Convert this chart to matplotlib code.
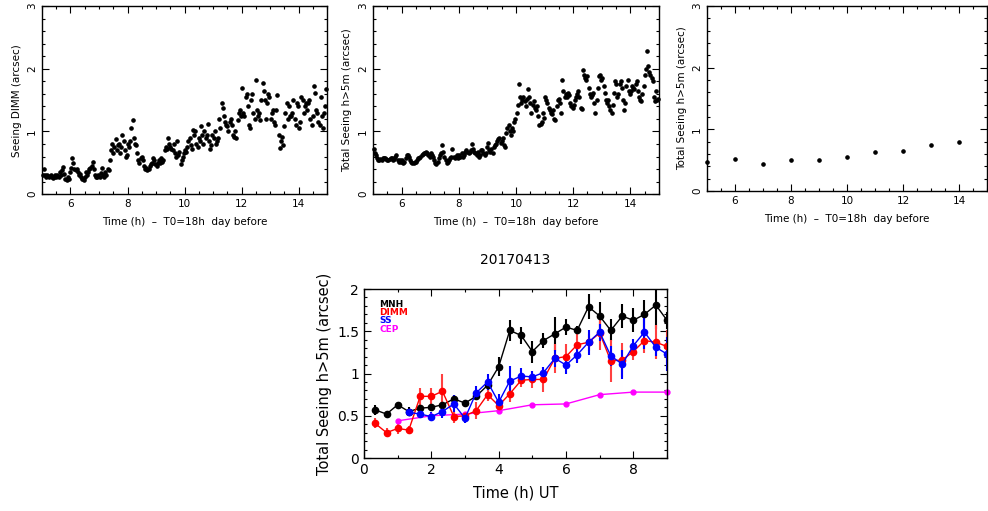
import numpy as np
import matplotlib.pyplot as plt
from matplotlib.ticker import MultipleLocator

# ---- top panels: time since T0 (h) ----
t_obs = [
    5.02, 5.06, 5.10, 5.14, 5.18, 5.22, 5.26, 5.30, 5.34, 5.38, 5.42, 5.46, 5.50, 5.54, 5.58, 5.62, 5.66, 5.70, 5.74, 5.78, 5.82, 5.86, 5.90, 5.94, 5.98,
    6.02, 6.06, 6.10, 6.14, 6.18, 6.22, 6.26, 6.30, 6.34, 6.38, 6.42, 6.46, 6.50, 6.54, 6.58, 6.62, 6.66, 6.70, 6.74, 6.78, 6.82, 6.86, 6.90, 6.94, 6.98,
    7.02, 7.06, 7.10, 7.14, 7.18, 7.22, 7.26, 7.30, 7.34, 7.38, 7.42, 7.46, 7.50, 7.54, 7.58, 7.62, 7.66, 7.70, 7.74, 7.78, 7.82, 7.86, 7.90, 7.94, 7.98,
    8.02, 8.06, 8.10, 8.14, 8.18, 8.22, 8.26, 8.30, 8.34, 8.38, 8.42, 8.46, 8.50, 8.54, 8.58, 8.62, 8.66, 8.70, 8.74, 8.78, 8.82, 8.86, 8.90, 8.94, 8.98,
    9.02, 9.06, 9.10, 9.14, 9.18, 9.22, 9.26, 9.30, 9.34, 9.38, 9.42, 9.46, 9.50, 9.54, 9.58, 9.62, 9.66, 9.70, 9.74, 9.78, 9.82, 9.86, 9.90, 9.94, 9.98,
    10.02, 10.06, 10.10, 10.14, 10.18, 10.22, 10.26, 10.30, 10.34, 10.38, 10.42, 10.46, 10.50, 10.54, 10.58, 10.62, 10.66, 10.70, 10.74, 10.78, 10.82, 10.86, 10.90, 10.94, 10.98,
    11.02, 11.06, 11.10, 11.14, 11.18, 11.22, 11.26, 11.30, 11.34, 11.38, 11.42, 11.46, 11.50, 11.54, 11.58, 11.62, 11.66, 11.70, 11.74, 11.78, 11.82, 11.86, 11.90, 11.94, 11.98,
    12.02, 12.06, 12.10, 12.14, 12.18, 12.22, 12.26, 12.30, 12.34, 12.38, 12.42, 12.46, 12.50, 12.54, 12.58, 12.62, 12.66, 12.70, 12.74, 12.78, 12.82, 12.86, 12.90, 12.94, 12.98,
    13.02, 13.06, 13.10, 13.14, 13.18, 13.22, 13.26, 13.30, 13.34, 13.38, 13.42, 13.46, 13.50, 13.54, 13.58, 13.62, 13.66, 13.70, 13.74, 13.78, 13.82, 13.86, 13.90, 13.94, 13.98,
    14.02, 14.06, 14.10, 14.14, 14.18, 14.22, 14.26, 14.30, 14.34, 14.38, 14.42, 14.46, 14.50, 14.54, 14.58, 14.62, 14.66, 14.70, 14.74, 14.78, 14.82, 14.86, 14.90, 14.94, 14.98,
]

seeing_dimm = [
    0.31, 0.40, 0.30, 0.28, 0.31, 0.29, 0.27, 0.30, 0.28, 0.26, 0.28, 0.30, 0.27, 0.31, 0.28, 0.35, 0.30, 0.38, 0.43, 0.32, 0.25, 0.22, 0.28, 0.24, 0.35,
    0.42, 0.57, 0.50, 0.40, 0.38, 0.40, 0.36, 0.30, 0.32, 0.27, 0.25, 0.22, 0.27, 0.35, 0.30, 0.36, 0.40, 0.42, 0.45, 0.52, 0.40, 0.30, 0.27, 0.28, 0.30,
    0.27, 0.33, 0.42, 0.30, 0.28, 0.35, 0.30, 0.40, 0.38, 0.55, 0.70, 0.80, 0.65, 0.75, 0.88, 0.70, 0.78, 0.80, 0.65, 0.75, 0.95, 0.85, 0.70, 0.60, 0.62,
    0.80, 0.75, 0.85, 1.05, 1.18, 0.90, 0.80, 0.78, 0.65, 0.55, 0.50, 0.58, 0.60, 0.55, 0.45, 0.40, 0.42, 0.38, 0.40, 0.45, 0.48, 0.50, 0.58, 0.55, 0.48,
    0.45, 0.50, 0.55, 0.50, 0.57, 0.52, 0.55, 0.70, 0.75, 0.72, 0.90, 0.80, 0.75, 0.72, 0.70, 0.80, 0.65, 0.60, 0.85, 0.62, 0.68, 0.48, 0.55, 0.60, 0.65,
    0.70, 0.68, 0.75, 0.85, 0.90, 0.78, 0.72, 1.02, 0.95, 1.00, 0.80, 0.75, 0.90, 0.85, 1.08, 0.95, 0.80, 1.00, 0.90, 0.95, 1.12, 0.85, 0.72, 0.78, 0.95,
    0.90, 1.00, 0.80, 0.85, 0.90, 1.20, 1.05, 1.45, 1.38, 1.25, 1.15, 1.10, 1.08, 1.00, 1.15, 1.20, 1.10, 0.95, 0.92, 1.00, 0.90, 1.18, 1.30, 1.35, 1.25,
    1.70, 1.30, 1.25, 1.55, 1.60, 1.40, 1.10, 1.05, 1.50, 1.60, 1.30, 1.20, 1.82, 1.35, 1.25, 1.30, 1.18, 1.50, 1.78, 1.65, 1.50, 1.20, 1.45, 1.60, 1.55,
    1.20, 1.30, 1.35, 1.15, 1.10, 1.35, 1.58, 0.95, 0.73, 0.85, 0.92, 0.78, 1.08, 1.30, 1.45, 1.20, 1.40, 1.25, 1.25, 1.30, 1.50, 1.20, 1.10, 1.45, 1.40,
    1.05, 1.15, 1.55, 1.50, 1.30, 1.40, 1.45, 1.35, 1.45, 1.50, 1.20, 1.10, 1.25, 1.72, 1.62, 1.35, 1.30, 1.15, 1.10, 1.55, 1.25, 1.05, 1.30, 1.40, 1.68,
]

seeing_total = [
    0.72, 0.65, 0.62, 0.58, 0.55, 0.55, 0.56, 0.55, 0.57, 0.58, 0.58, 0.56, 0.55, 0.54, 0.56, 0.57, 0.58, 0.55, 0.56, 0.60, 0.62, 0.55, 0.52, 0.55, 0.52,
    0.55, 0.50, 0.52, 0.58, 0.62, 0.63, 0.60, 0.55, 0.52, 0.50, 0.50, 0.51, 0.52, 0.55, 0.57, 0.58, 0.60, 0.62, 0.64, 0.66, 0.65, 0.67, 0.65, 0.62, 0.60,
    0.66, 0.62, 0.60, 0.55, 0.50, 0.48, 0.52, 0.58, 0.62, 0.65, 0.78, 0.68, 0.60, 0.55, 0.50, 0.52, 0.55, 0.58, 0.60, 0.72, 0.60, 0.58, 0.60, 0.62, 0.58,
    0.62, 0.60, 0.65, 0.60, 0.62, 0.68, 0.70, 0.67, 0.66, 0.68, 0.70, 0.80, 0.72, 0.68, 0.65, 0.62, 0.68, 0.60, 0.62, 0.70, 0.70, 0.65, 0.62, 0.66, 0.75,
    0.82, 0.70, 0.68, 0.72, 0.65, 0.75, 0.78, 0.80, 0.85, 0.88, 0.90, 0.82, 0.85, 0.90, 0.78, 0.75, 0.98, 1.05, 1.10, 1.00, 0.95, 1.05, 1.00, 1.15, 1.20,
    1.30, 1.42, 1.75, 1.55, 1.45, 1.50, 1.55, 1.48, 1.40, 1.52, 1.68, 1.55, 1.45, 1.30, 1.42, 1.48, 1.38, 1.35, 1.40, 1.25, 1.10, 1.12, 1.15, 1.30, 1.22,
    1.55, 1.50, 1.45, 1.38, 1.35, 1.30, 1.28, 1.35, 1.20, 1.18, 1.40, 1.50, 1.52, 1.45, 1.30, 1.82, 1.65, 1.55, 1.60, 1.55, 1.62, 1.58, 1.45, 1.40, 1.38,
    1.42, 1.50, 1.55, 1.60, 1.65, 1.55, 1.38, 1.36, 1.98, 1.90, 1.85, 1.82, 1.88, 1.70, 1.60, 1.55, 1.58, 1.62, 1.45, 1.30, 1.50, 1.70, 1.88, 1.90, 1.82,
    1.85, 1.72, 1.62, 1.50, 1.45, 1.50, 1.40, 1.35, 1.30, 1.42, 1.62, 1.80, 1.75, 1.55, 1.60, 1.75, 1.80, 1.70, 1.50, 1.35, 1.45, 1.72, 1.82, 1.65, 1.60,
    1.65, 1.72, 1.70, 1.68, 1.75, 1.80, 1.65, 1.55, 1.50, 1.48, 1.60, 1.72, 1.90, 2.00, 2.28, 2.05, 1.95, 1.90, 1.85, 1.80, 1.55, 1.48, 1.65, 1.50, 1.52,
]

t_cep_local = [5, 6, 7, 8, 9, 10, 11, 12, 13, 14]
seeing_cep_local = [0.47, 0.52, 0.44, 0.50, 0.51, 0.56, 0.63, 0.65, 0.75, 0.79]

# ---- bottom panel: UT hours ----
t_ut = [0.33, 0.67, 1.0, 1.33, 1.67, 2.0, 2.33, 2.67, 3.0, 3.33, 3.67, 4.0, 4.33, 4.67,
        5.0, 5.33, 5.67, 6.0, 6.33, 6.67, 7.0, 7.33, 7.67, 8.0, 8.33, 8.67, 9.0]
mnh = [0.57, 0.52, 0.63, 0.55, 0.59, 0.60, 0.63, 0.70, 0.65, 0.73, 0.86, 1.08, 1.51, 1.45,
       1.26, 1.39, 1.47, 1.55, 1.51, 1.79, 1.68, 1.51, 1.68, 1.63, 1.70, 1.81, 1.63]
mnh_err = [0.06, 0.03, 0.03, 0.05, 0.03, 0.03, 0.03, 0.04, 0.03, 0.04, 0.07, 0.11, 0.12, 0.10,
           0.13, 0.09, 0.20, 0.10, 0.05, 0.15, 0.17, 0.13, 0.14, 0.14, 0.17, 0.28, 0.10]
dimm = [0.41, 0.30, 0.35, 0.33, 0.73, 0.73, 0.79, 0.49, 0.50, 0.56, 0.75, 0.62, 0.76, 0.92,
        0.93, 0.93, 1.18, 1.20, 1.34, 1.37, 1.48, 1.15, 1.16, 1.26, 1.39, 1.37, 1.32]
dimm_err = [0.06, 0.05, 0.07, 0.05, 0.10, 0.10, 0.20, 0.07, 0.05, 0.10, 0.08, 0.05, 0.10, 0.08,
            0.10, 0.15, 0.17, 0.15, 0.20, 0.10, 0.20, 0.25, 0.20, 0.10, 0.15, 0.20, 0.20]
t_ss = t_ut[3:]
ss = [0.54, 0.52, 0.49, 0.55, 0.64, 0.47, 0.77, 0.90, 0.66, 0.91, 0.97, 0.96, 1.01, 1.18,
      1.10, 1.22, 1.37, 1.49, 1.21, 1.11, 1.33, 1.49, 1.31, 1.23]
ss_err = [0.04, 0.04, 0.05, 0.08, 0.10, 0.06, 0.08, 0.10, 0.10, 0.18, 0.10, 0.07, 0.07, 0.10,
          0.10, 0.10, 0.15, 0.10, 0.12, 0.17, 0.08, 0.20, 0.10, 0.20]
t_cep = [1, 2, 3, 4, 5, 6, 7, 8, 9]
cep = [0.44, 0.50, 0.52, 0.56, 0.63, 0.64, 0.75, 0.78, 0.78]

font = 'DejaVu Sans'
plt.rcParams['font.family'] = font


def style_box(ax, xminor, yminor, size):
    ax.tick_params(which='both', direction='in', top=True, right=True, width=0.8)
    ax.tick_params(which='major', length=5, labelsize=size)
    ax.tick_params(which='minor', length=2.5)
    ax.xaxis.set_minor_locator(MultipleLocator(xminor))
    ax.yaxis.set_minor_locator(MultipleLocator(yminor))
    for s in ax.spines.values():
        s.set_linewidth(1.0)


fig = plt.figure(figsize=(9.88, 5.11), dpi=100)

tops = [
    ([0.0425, 0.620, 0.2885, 0.368], t_obs, seeing_dimm, 'Seeing DIMM (arcsec)'),
    ([0.3775, 0.620, 0.2895, 0.368], t_obs, seeing_total, 'Total Seeing h>5m (arcsec)'),
    ([0.7156, 0.626, 0.2834, 0.362], t_cep_local, seeing_cep_local, 'Total Seeing h>5m (arcsec)'),
]
for rect, tx, ty, ylab in tops:
    ax = fig.add_axes(rect)
    ax.plot(tx, ty, 'o', color='black', markersize=2.3, clip_on=False)
    ax.set_xlim(5, 15)
    ax.set_ylim(0, 3)
    ax.set_xticks([6, 8, 10, 12, 14])
    ax.set_yticks([0, 1, 2, 3])
    style_box(ax, 0.5, 0.2, 7.5)
    for lab in ax.get_yticklabels():
        lab.set_rotation(90)
        lab.set_va('center')
    ax.set_xlabel('Time (h)  \u2013  T0=18h  day before', fontsize=7.5, labelpad=6)
    ax.set_ylabel(ylab, fontsize=7.5, labelpad=4)

# bottom comparison panel
ax = fig.add_axes([0.3684, 0.1037, 0.3067, 0.3307])
ax.errorbar(t_ut, mnh, yerr=mnh_err, color='black', marker='o', markersize=4.5,
            linewidth=1.0, elinewidth=1.5, capsize=0)
ax.errorbar(t_ut, dimm, yerr=dimm_err, color='#ff0000', marker='o', markersize=4.5,
            linewidth=1.0, elinewidth=1.5, capsize=0, ecolor='#ff4040')
ax.errorbar(t_ss, ss, yerr=ss_err, color='#0000ff', marker='o', markersize=4.5,
            linewidth=1.0, elinewidth=1.5, capsize=0)
ax.plot(t_cep, cep, color='#ff00ff', marker='o', markersize=3.5, linewidth=1.0, clip_on=False)
ax.set_xlim(0, 9)
ax.set_ylim(0, 2)
ax.set_xticks([0, 2, 4, 6, 8])
ax.set_yticks([0, 0.5, 1, 1.5, 2])
ax.set_yticklabels(['0', '0.5', '1', '1.5', '2'])
style_box(ax, 1, 0.1, 10)
ax.set_xlabel('Time (h) UT', fontsize=10.5, labelpad=6)
ax.set_ylabel('Total Seeing h>5m (arcsec)', fontsize=10.5, labelpad=4)
ax.set_title('20170413', fontsize=10, pad=18)

for i, (name, col) in enumerate([('MNH', 'black'), ('DIMM', '#ff0000'),
                                  ('SS', '#0000ff'), ('CEP', '#ff00ff')]):
    ax.text(0.05, 0.91 - i * 0.049, name, color=col, fontsize=6.5, fontweight='bold',
            transform=ax.transAxes, va='center')

fig.savefig('out.png', dpi=100)
